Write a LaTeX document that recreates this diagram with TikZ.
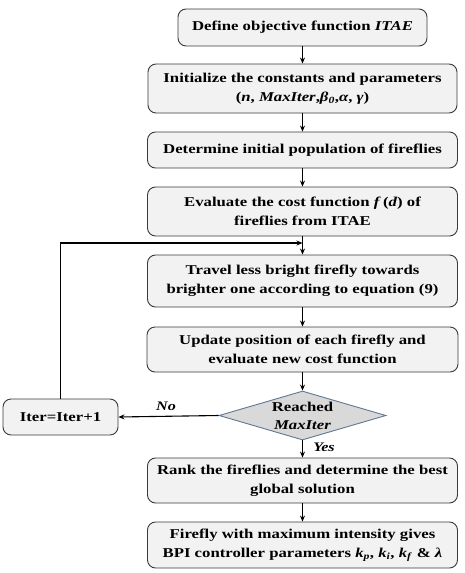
\documentclass[tikz,border=0pt]{standalone}
\usepackage{fontspec}
\setmainfont{Liberation Serif}[FakeStretch=1.24]
\usetikzlibrary{shapes.geometric,arrows.meta}
\definecolor{boxfill}{HTML}{F2F2F2}
\definecolor{boxline}{HTML}{3A3A3A}
\definecolor{dfill}{HTML}{D9D9D9}
\definecolor{dline}{HTML}{5F7893}
\newcommand{\mi}[1]{\textit{#1}}
\newcommand{\sbi}[1]{\textsubscript{\textit{#1}}}
\tikzset{
  proc/.style={draw=boxline, line width=0.9pt, fill=boxfill, rounded corners=8pt,
    align=center, inner sep=0pt, font=\fontsize{13.5}{19}\selectfont\bfseries},
  decis/.style={diamond, draw=dline, line width=0.9pt, fill=dfill, inner sep=0pt},
  arr/.style={-{Stealth[length=6pt,width=5pt]}, line width=1.1pt, black},
  lbl/.style={font=\fontsize{13}{15}\selectfont\bfseries\itshape}
}
\begin{document}
\begin{tikzpicture}[x=1pt,y=-1pt]
\useasboundingbox (0,0) rectangle (465,573);
\node[proc, minimum width=249pt, minimum height=37pt] (b1) at (302.5,27.5) {Define objective function \mi{ITAE}};
\node[proc, minimum width=309pt, minimum height=49pt] (b2) at (302.5,88.5) {Initialize the constants and parameters\\(\mi{n}, \mi{MaxIter},\mi{β}\sbi{0},\mi{α}, \mi{γ})};
\node[proc, minimum width=310pt, minimum height=36pt] (b3) at (302.5,150) {Determine initial population of fireflies};
\node[proc, minimum width=310pt, minimum height=49pt] (b4) at (302.5,211.5) {Evaluate the cost function \mi{f}\,(\mi{d}) of\\fireflies from ITAE};
\node[proc, minimum width=310pt, minimum height=52pt] (b5) at (302.5,281) {Travel less bright firefly towards\\brighter one according to equation (9)};
\node[proc, minimum width=311pt, minimum height=45pt] (b6) at (302.5,349.5) {Update position of each firefly and\\evaluate new cost function};
\node[decis, minimum width=167pt, minimum height=49pt] (d) at (302.5,415.5) {};
\node[font=\fontsize{13.5}{18}\selectfont\bfseries, align=center] (dt) at (d) {Reached\\\mi{MaxIter}};
\node[proc, minimum width=115pt, minimum height=36pt] (it) at (60.5,417) {Iter=Iter+1};
\node[proc, minimum width=310pt, minimum height=45pt] (b7) at (302.5,480.5) {Rank the fireflies and determine the best\\global solution};
\node[proc, minimum width=310pt, minimum height=46pt] (b8) at (302.5,545) {Firefly with maximum intensity gives\\BPI controller parameters \mi{k}\sbi{p}, \mi{k}\sbi{i}, \mi{k}\sbi{f} \& \mi{λ}};
\coordinate (j) at (302.5,243);
\coordinate (c) at (60.5,243);
\draw[arr] (b1) -- (b2);
\draw[arr] (b2) -- (b3);
\draw[arr] (b3) -- (b4);
\draw[arr] (b4) -- (b5);
\draw[arr] (b5) -- (b6);
\draw[arr] (b6) -- (d);
\draw[arr] (d) -- (b7);
\draw[arr] (b7) -- (b8);
\draw[arr] (d.west) -- (it.east);
\draw[arr] (it.north) -- (c) -- (j);
\node[lbl] (no) at (166,406) {No};
\node[lbl] (yes) at (324,447) {Yes};
\end{tikzpicture}
\end{document}
